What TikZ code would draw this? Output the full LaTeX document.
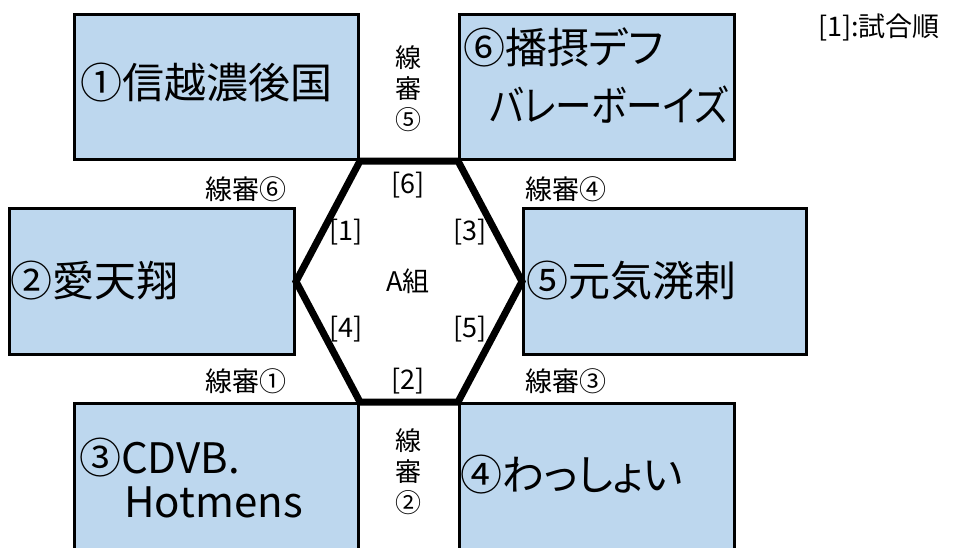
\documentclass[tikz,border=0pt]{standalone}
\usepackage{fontspec}
\setmainfont[RawFeature=+palt]{Noto Sans CJK JP}
\definecolor{boxblue}{HTML}{BDD7EE}
\begin{document}
\begin{tikzpicture}[x=1pt,y=-1pt,
  team/.style={draw=black, line width=3pt, fill=boxblue, anchor=north west, inner sep=0pt},
  big/.style={font=\fontsize{42}{48}\selectfont, anchor=west, inner sep=0pt},
  lab/.style={font=\fontsize{27}{30}\selectfont, inner sep=0pt},
  vlab/.style={font=\fontsize{26}{31}\selectfont, align=center, inner sep=0pt},
  hexline/.style={line width=7pt, line join=miter}]
\useasboundingbox (0,0) rectangle (976,547);
\clip (0,0) rectangle (976,547);
% team boxes
\node[team, minimum width=284pt, minimum height=145pt] (b1) at (73,13) {};
\node[team, minimum width=275pt, minimum height=145pt] (b6) at (458,13) {};
\node[team, minimum width=285pt, minimum height=146pt] (b2) at (8,207) {};
\node[team, minimum width=283pt, minimum height=146pt] (b5) at (522,207) {};
\node[team, minimum width=284pt, minimum height=170pt] (b3) at (73,402) {};
\node[team, minimum width=275pt, minimum height=170pt] (b4) at (458,402) {};
% hexagon
\draw[hexline] (b1.south east) -- (b6.south west) -- (b5.west) -- (b4.north west) -- (b3.north east) -- (b2.east) -- cycle;
% team names
\node[big] (t1) at (80,83) {①信越濃後国};
\node[big] (t6a) at (463,47) {⑥播摂デフ};
\node[big] (t6b) at (489,105) {\scalebox{0.87}[1]{バレーボーイズ}};
\node[big] (t2) at (10,281) {②愛天翔};
\node[big] (t5) at (526,281) {⑤元気溌剌};
\node[big] (t3a) at (79,458) {③CDVB.};
\node[big] (t3b) at (124,502) {Hotmens};
\node[big] (t4) at (460,475) {④わっしょい};
% linesmen
\node[vlab] (v5) at (408,89) {線\\審\\⑤};
\node[vlab] (v2) at (408,472) {線\\審\\②};
\node[lab] (l6) at (246,189) {線審⑥};
\node[lab] (l4) at (566,189) {線審④};
\node[lab] (l1) at (246,381) {線審①};
\node[lab] (l3) at (566,381) {線審③};
% match order
\node[lab] (m6) at (408,185) {[6]};
\node[lab] (m1) at (346,232) {[1]};
\node[lab] (m3) at (470,232) {[3]};
\node[lab] (grp) at (408,281) {A組};
\node[lab] (m4) at (346,329) {[4]};
\node[lab] (m5) at (470,329) {[5]};
\node[lab] (m2) at (408,381) {[2]};
\node[lab, anchor=west] (legend) at (818,27) {[1]:試合順};
\end{tikzpicture}
\end{document}
